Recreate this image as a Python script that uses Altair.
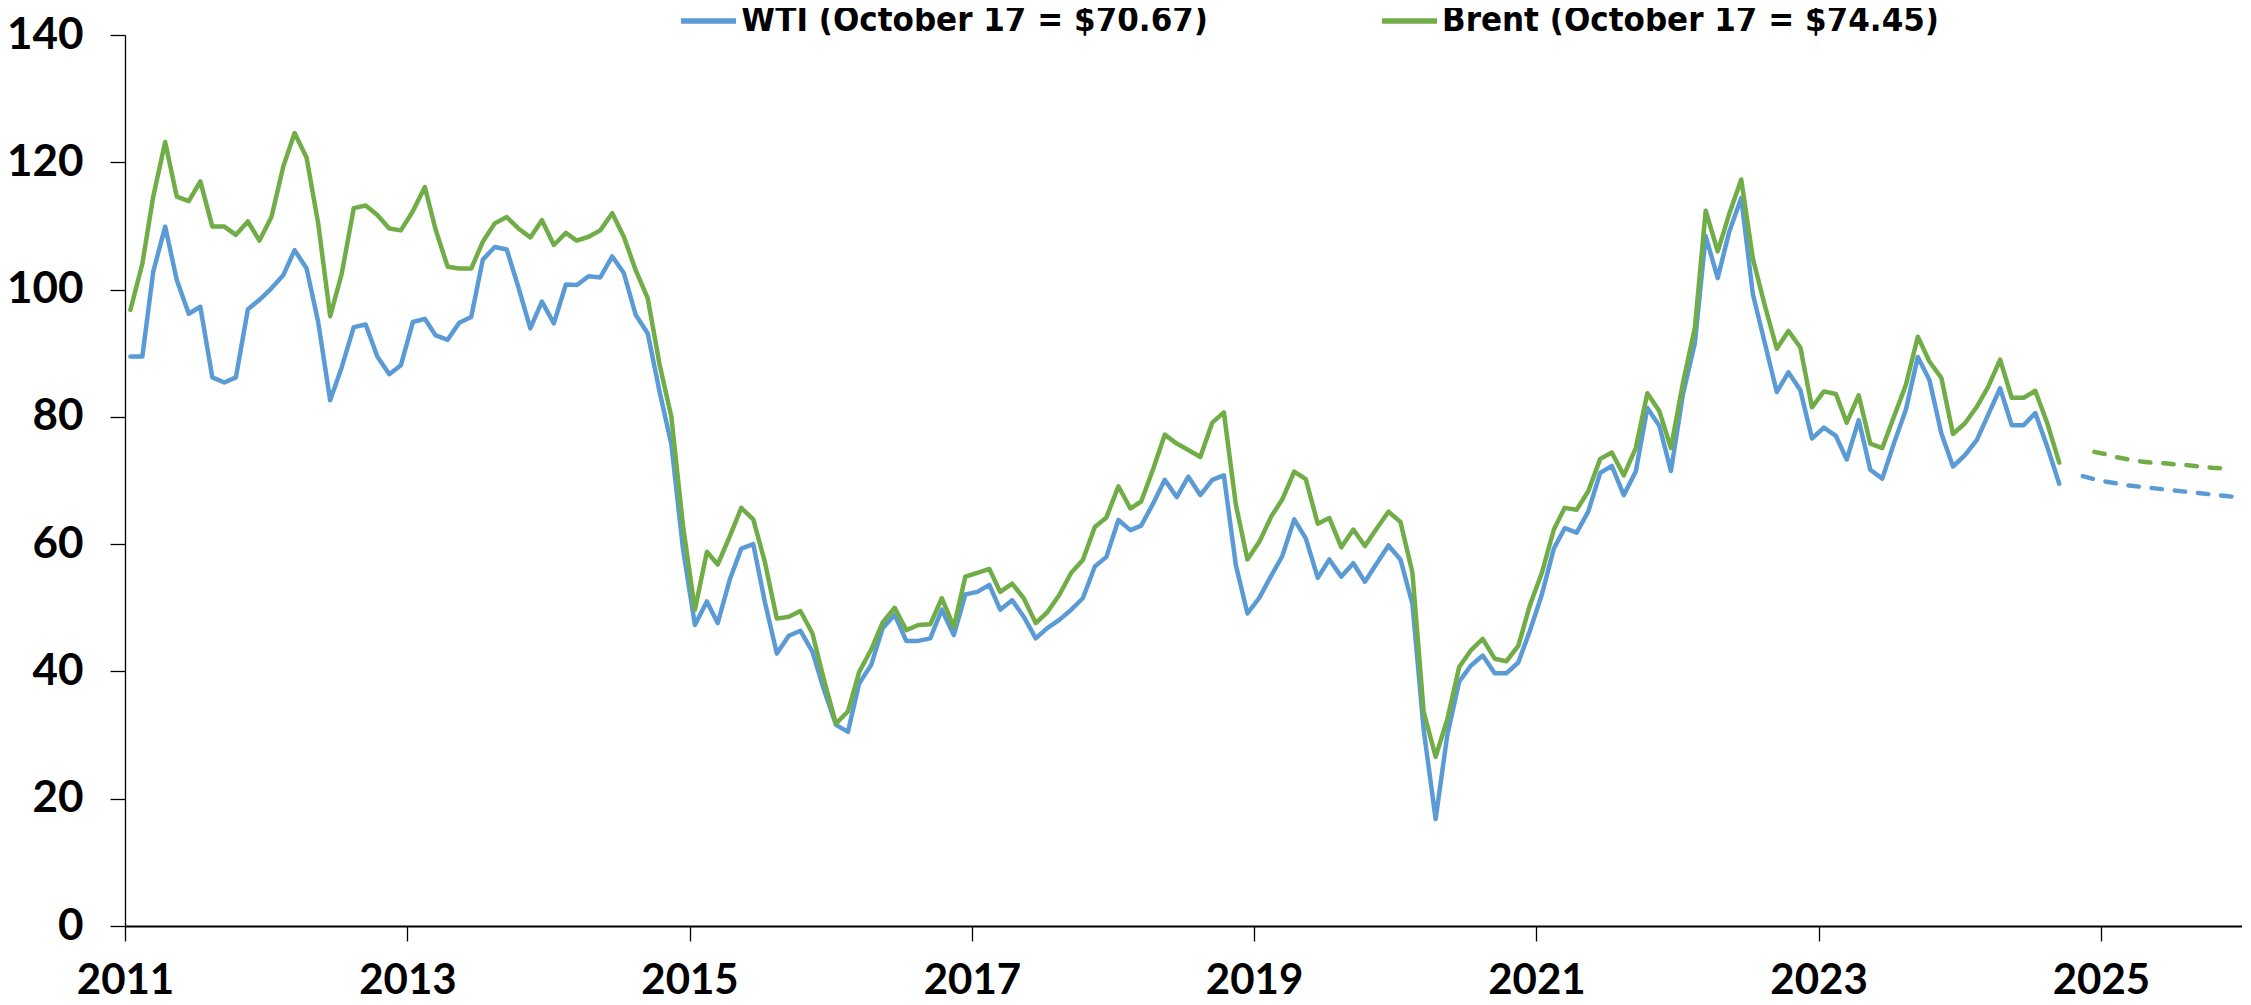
import altair as alt
import pandas as pd

WTI_NAME = "WTI (October 17 = $70.67)"
BRENT_NAME = "Brent (October 17 = $74.45)"
COLORS = ["#5B9BD5", "#70AD47"]

# Monthly averages, Jan 2011 - Sep 2024 ($/barrel)
HIST_START = "2011-01"
wti = [
    89.5, 89.5, 102.8, 109.9, 101.5, 96.2, 97.3, 86.2, 85.4, 86.2, 96.9, 98.4,
    100.2, 102.3, 106.2, 103.3, 94.9, 82.6, 87.8, 94.1, 94.5, 89.5, 86.7, 88.1,
    94.9, 95.4, 92.8, 92.1, 94.8, 95.7, 104.7, 106.7, 106.3, 100.4, 93.9, 98.1,
    94.7, 100.8, 100.7, 102.1, 101.9, 105.2, 102.6, 96.0, 93.1, 84.1, 75.7, 59.3,
    47.3, 51.0, 47.6, 54.4, 59.3, 60.0, 50.9, 42.8, 45.6, 46.4, 43.1, 37.1,
    31.6, 30.5, 38.1, 41.0, 46.8, 48.9, 44.8, 44.8, 45.2, 49.7, 45.7, 52.1,
    52.5, 53.6, 49.7, 51.2, 48.6, 45.2, 46.8, 48.1, 49.7, 51.5, 56.5, 58.0,
    63.8, 62.2, 62.9, 66.4, 70.1, 67.4, 70.6, 67.7, 70.1, 70.8, 56.7, 49.1,
    51.6, 55.1, 58.1, 63.9, 60.9, 54.7, 57.6, 54.9, 57.0, 54.1, 57.0, 59.8,
    57.6, 50.6, 30.9, 16.8, 29.9, 38.4, 40.9, 42.5, 39.7, 39.7, 41.4, 46.4,
    52.1, 59.3, 62.5, 61.8, 65.1, 71.2, 72.3, 67.7, 71.4, 81.4, 78.6, 71.5,
    83.5, 91.6, 108.4, 101.8, 109.1, 114.4, 99.3, 91.6, 83.9, 87.0, 84.2, 76.6,
    78.3, 77.0, 73.3, 79.5, 71.7, 70.3, 75.8, 81.1, 89.4, 85.8, 77.4, 72.2,
    74.0, 76.4, 80.3, 84.5, 78.7, 78.7, 80.6, 75.3, 69.5,
]
brent = [
    96.8, 104.1, 114.6, 123.2, 114.6, 113.9, 117.0, 109.9, 109.9, 108.6, 110.7, 107.7,
    111.4, 119.4, 124.6, 120.7, 110.4, 95.8, 102.5, 112.8, 113.2, 111.7, 109.6, 109.3,
    112.3, 116.1, 109.4, 103.6, 103.3, 103.3, 107.5, 110.4, 111.4, 109.6, 108.2, 110.9,
    107.0, 108.9, 107.7, 108.3, 109.3, 112.0, 108.3, 103.0, 98.6, 88.4, 80.0, 63.0,
    49.7, 58.8, 56.8, 61.2, 65.7, 63.9, 57.2, 48.3, 48.6, 49.5, 46.0, 38.7,
    31.8, 33.7, 39.9, 43.4, 47.7, 50.0, 46.5, 47.3, 47.4, 51.5, 47.0, 54.9,
    55.5, 56.1, 52.5, 53.8, 51.5, 47.6, 49.3, 52.0, 55.5, 57.5, 62.7, 64.2,
    69.1, 65.6, 66.7, 71.8, 77.2, 75.8, 74.8, 73.7, 79.1, 80.7, 66.2, 57.6,
    60.4, 64.4, 67.0, 71.4, 70.2, 63.2, 64.1, 59.5, 62.3, 59.7, 62.5, 65.1,
    63.5, 55.5, 33.7, 26.6, 32.4, 40.7, 43.3, 45.1, 42.0, 41.6, 44.0, 50.4,
    55.5, 62.3, 65.7, 65.4, 68.3, 73.4, 74.4, 70.8, 75.1, 83.7, 80.9, 75.1,
    85.3, 94.0, 112.4, 106.0, 111.9, 117.3, 104.9, 97.5, 90.7, 93.5, 90.9, 81.5,
    84.0, 83.6, 79.1, 83.4, 75.8, 75.1, 80.0, 85.0, 92.6, 88.7, 86.1, 77.3,
    79.0, 81.6, 84.7, 89.0, 83.0, 83.0, 84.1, 79.0, 72.8,
]

# Futures curves as of October 17, 2024
WTI_FCST_START = "2024-11"
wti_fcst = [70.7, 70.2, 69.8, 69.5, 69.2, 69.0, 68.8, 68.6, 68.4, 68.2, 68.0, 67.8, 67.6, 67.4]
BRENT_FCST_START = "2024-12"
brent_fcst = [74.5, 74.1, 73.6, 73.3, 73.0, 72.8, 72.7, 72.5, 72.4, 72.2, 72.0, 71.9]

Y_TICKS = [0, 20, 40, 60, 80, 100, 120, 140]
X_TICK_YEARS = [2011, 2013, 2015, 2017, 2019, 2021, 2023, 2025]


def month_dates(start, n):
    return [d.strftime("%Y-%m-15") for d in pd.date_range(start + "-01", periods=n, freq="MS")]


def frame(series, seg, start, values):
    return pd.DataFrame({
        "date": month_dates(start, len(values)),
        "price": values,
        "series": series,
        "seg": seg,
    })


df = pd.concat([
    frame(WTI_NAME, "hist", HIST_START, wti),
    frame(WTI_NAME, "fcst", WTI_FCST_START, wti_fcst),
    frame(BRENT_NAME, "hist", HIST_START, brent),
    frame(BRENT_NAME, "fcst", BRENT_FCST_START, brent_fcst),
], ignore_index=True)

x = alt.X(
    "date:T",
    scale=alt.Scale(
        type="utc",
        domain=[alt.DateTime(year=2011, month=1, date=1, utc=True),
                alt.DateTime(year=2026, month=1, date=1, utc=True)],
    ),
    axis=alt.Axis(
        values=[alt.DateTime(year=yr, month=1, date=1, utc=True) for yr in X_TICK_YEARS],
        format="%Y",
        title=None,
        tickSize=15,
        tickWidth=1.3,
        domainWidth=2.2,
        labelPadding=19,
        labelFontSize=42,
        labelOverlap=False,
        labelFlush=False,
    ),
)
y = alt.Y(
    "price:Q",
    scale=alt.Scale(domain=[0, 140], nice=False),
    axis=alt.Axis(
        values=Y_TICKS,
        title=None,
        tickSize=15,
        tickWidth=1.3,
        domainWidth=1.3,
        labelPadding=27,
        labelFontSize=44,
    ),
)
color = alt.Color(
    "series:N",
    scale=alt.Scale(domain=[WTI_NAME, BRENT_NAME], range=COLORS),
    legend=alt.Legend(
        orient="none",
        legendX=553,
        legendY=-44.5,
        direction="horizontal",
        title=None,
        symbolType="stroke",
        symbolSize=3025,
        symbolStrokeWidth=5.5,
        labelFont="DejaVu Sans Condensed",
        labelFontSize=34.5,
        labelFontWeight="bold",
        labelColor="black",
        labelOffset=2,
        labelLimit=2000,
        columnPadding=162,
        padding=0,
    ),
)

base = alt.Chart(df)


def layer(series, seg):
    props = dict(strokeWidth=4.5, strokeJoin="round", strokeCap="round")
    if seg == "fcst":
        props["strokeDash"] = [10.5, 12.8]
    return (
        base.transform_filter((alt.datum.series == series) & (alt.datum.seg == seg))
        .mark_line(**props)
        .encode(x=x, y=y, color=color)
    )


chart = (
    alt.layer(
        layer(WTI_NAME, "hist"),
        layer(WTI_NAME, "fcst"),
        layer(BRENT_NAME, "hist"),
        layer(BRENT_NAME, "fcst"),
    )
    .properties(
        width=2117,
        height=891,
        padding={"left": 117, "top": 27, "right": 0, "bottom": 71},
        autosize=alt.AutoSizeParams(type="none"),
        background="white",
    )
    .configure_view(stroke=None)
    .configure_axis(
        grid=False,
        domainColor="black",
        tickColor="black",
        labelColor="black",
        labelFont="Lato",
        labelFontWeight="bold",
    )
)

chart.save("out.html", embed_options={"renderer": "svg", "actions": False})
